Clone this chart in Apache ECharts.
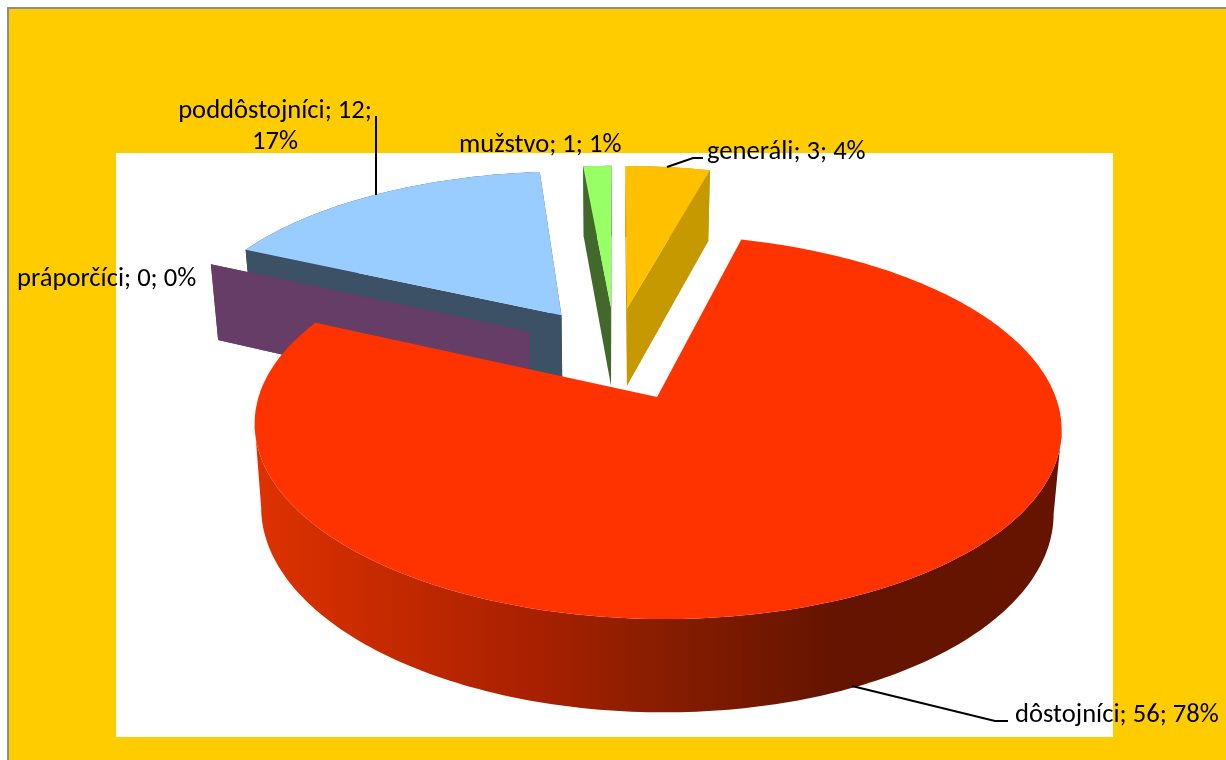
<!DOCTYPE html>
<html><head><meta charset="utf-8">
<style>html,body{margin:0;padding:0;background:#fff}#c{width:1226px;height:760px}</style>
<script src="https://cdn.jsdelivr.net/npm/echarts@6/dist/echarts.min.js"></script>
</head><body><div id="c"></div>
<script>
// data
const categories = ['generáli', 'dôstojníci', 'práporčíci', 'poddôstojníci', 'mužstvo'];
const counts = [3, 56, 0, 12, 1];

// colours
const topColors = ['#FFC000', '#FF3300', '#663D66', '#99CCFF', '#99FF66'];
const wallColors = ['#C69900', null, '#663D66', '#3D5166', '#42682B'];
const redWallStops = [[0, '#DE3200'], [0.35, '#A82000'], [0.48, '#8C1E00'], [0.72, '#641400'], [1, '#661400']];

// paint order (back to front) and per-slice vertical nudge
const paintOrder = [3, 2, 4, 0, 1];
const nudgeY = [0, 6, 0, 0, 0];

// camera
const CAM = {cx: 615, cy: 350, a: 385, b: 175, k: 0.15, explode: 0.25, depth: 80, shrink: 0.982};

// label layout
const labelLayout = [
  {x: 707, y: 152, align: 'left'},
  {x: 1015, y: 715, align: 'left'},
  {x: 17, y: 279, align: 'left'},
  {x: 275, y: 127, align: 'center', wrap: true},
  {x: 459, y: 145, align: 'left'}
];
const leaders = [
  [[667, 167], [693, 158], [703, 158]],
  [[852, 686], [995, 721], [1008, 721]],
  null,
  [[376, 195], [376, 116]],
  null
];

const total = counts.reduce((s, v) => s + v, 0);
const starts = [];
counts.reduce((acc, v, i) => { starts[i] = acc; return acc + v; }, 0);
const toRad = v => v / total * 2 * Math.PI;

function project(dirX, dirY, radial, theta, lower, dy) {
  const X = dirX * CAM.explode + radial * Math.sin(theta);
  const Y = dirY * CAM.explode - radial * Math.cos(theta);
  const s = 1 / (1 - CAM.k * Y);
  let px = CAM.a * X * s, py = CAM.b * Y * s;
  if (lower) { px *= CAM.shrink; py = py * CAM.shrink + CAM.depth * s; }
  return [CAM.cx + px, CAM.cy + py + dy];
}

function renderItem(params) {
  const i = params.dataIndex;
  const t0 = toRad(starts[i]), t1 = toRad(starts[i] + counts[i]);
  const mid = (t0 + t1) / 2;
  const dx = Math.sin(mid), dy = -Math.cos(mid);
  const n = nudgeY[i];
  const P = (r, t, low) => project(dx, dy, r, t, low, n);
  const steps = Math.max(1, Math.ceil((t1 - t0) / (Math.PI / 180)));
  const top = [], bot = [];
  for (let j = 0; j <= steps; j++) {
    const t = t0 + (t1 - t0) * j / steps;
    top.push(P(1, t, false)); bot.push(P(1, t, true));
  }
  const z = paintOrder.indexOf(i) * 10;
  const children = [];
  const wall = wallColors[i] || new echarts.graphic.LinearGradient(
    CAM.cx - 360, 0, CAM.cx + 445, 0,
    redWallStops.map(s => ({offset: s[0], color: s[1]})), true);
  const poly = (pts, fill, zz) => children.push({type: 'polygon', z2: z + zz, shape: {points: pts}, style: {fill: fill}});
  if (wallColors[i]) {
    poly([P(0, t0, false), P(1, t0, false), P(1, t0, true), P(0, t0, true)], wall, 1);
    poly([P(0, t1, false), P(1, t1, false), P(1, t1, true), P(0, t1, true)], wall, 1);
  }
  if (counts[i] > 0) {
    // outer wall: only the part between the left and right silhouette points
    let jL = 0, jR = 0;
    top.forEach((p, j) => { if (p[0] < top[jL][0]) jL = j; if (p[0] > top[jR][0]) jR = j; });
    const a = Math.min(jL, jR), b = Math.max(jL, jR);
    if (b > a) poly(top.slice(a, b + 1).concat(bot.slice(a, b + 1).reverse()), wall, 2);
    poly([P(0, t0, false)].concat(top), topColors[i], 3);
  }
  const pct = Math.round(counts[i] / total * 100);
  const L = labelLayout[i];
  const text = L.wrap
    ? categories[i] + '; ' + counts[i] + ';\n' + pct + '%'
    : categories[i] + '; ' + counts[i] + '; ' + pct + '%';
  children.push({type: 'text', z2: 100, style: {
    text: text, x: L.x, y: L.y, fill: '#000', align: L.align, verticalAlign: 'middle',
    font: '26.6px Carlito, Lato, sans-serif', lineHeight: 31
  }});
  if (leaders[i]) children.push({type: 'polyline', z2: 99, shape: {points: leaders[i]},
    style: {stroke: '#000', lineWidth: 2, fill: 'none'}});
  return {type: 'group', children: children};
}

const chart = echarts.init(document.getElementById('c'), null, {renderer: 'canvas'});
chart.setOption({
  animation: false,
  backgroundColor: '#ffffff',
  graphic: [
    {type: 'rect', z: -2, shape: {x: 8, y: 8, width: 1230, height: 760}, style: {fill: '#FFCC00', stroke: '#8C8C8C', lineWidth: 2}},
    {type: 'rect', z: -1, shape: {x: 116, y: 153, width: 997, height: 584}, style: {fill: '#FFFFFF'}}
  ],
  series: [{
    type: 'custom',
    coordinateSystem: 'none',
    silent: true,
    data: counts.map((v, i) => ({name: categories[i], value: v})),
    renderItem: renderItem
  }]
});
</script></body></html>
